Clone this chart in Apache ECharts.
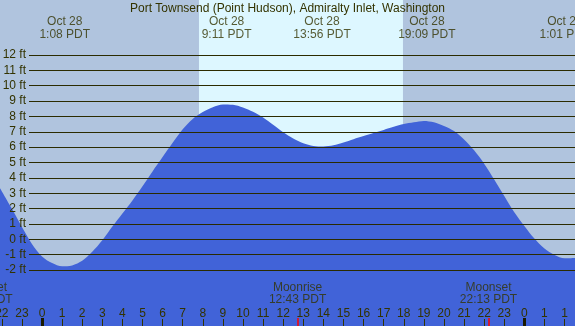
<!DOCTYPE html>
<html><head><meta charset="utf-8">
<script src="https://cdn.jsdelivr.net/npm/echarts@6/dist/echarts.min.js"></script>
<style>html,body{margin:0;padding:0;background:#b0c4de}#c{width:575px;height:326px}</style>
</head><body><div id="c"></div>
<script>
// ---- data (hours since Oct 28 00:00 PDT, feet) ----
const titleText = 'Port Townsend (Point Hudson), Admiralty Inlet, Washington';
const tideHours = [-2.09, -1.5, -1.0, -0.5, 0.0, 0.5, 1.0, 1.5, 2.0, 2.5, 3.0, 3.5, 4.0, 4.5, 5.0, 5.5, 6.0, 6.5, 7.0, 7.5, 8.0, 8.5, 9.0, 9.5, 10.0, 10.5, 11.0, 11.5, 12.0, 12.5, 13.0, 13.5, 14.0, 14.5, 15.0, 15.5, 16.0, 16.5, 17.0, 17.5, 18.0, 18.5, 19.0, 19.5, 20.0, 20.5, 21.0, 21.5, 22.0, 22.5, 23.0, 23.5, 24.0, 24.5, 25.0, 25.5, 26.0, 26.52];
const tideFeet  = [3.33, 2.0, 0.8, -0.3, -1.12, -1.55, -1.76, -1.7, -1.4, -0.82, -0.07, 0.83, 1.68, 2.53, 3.45, 4.42, 5.35, 6.28, 7.16, 7.83, 8.28, 8.6, 8.78, 8.76, 8.58, 8.3, 7.93, 7.45, 6.97, 6.56, 6.25, 6.08, 6.04, 6.12, 6.3, 6.52, 6.72, 6.92, 7.12, 7.32, 7.5, 7.62, 7.71, 7.62, 7.38, 7.05, 6.5, 5.79, 4.92, 3.89, 2.82, 1.76, 0.87, 0.05, -0.6, -1.02, -1.24, -1.22];
const eventHours = [1.133, 9.183, 13.933, 19.15, 26.017];
const eventLabels = ['Oct 28\n1:08 PDT', 'Oct 28\n9:11 PDT', 'Oct 28\n13:56 PDT', 'Oct 28\n19:09 PDT', 'Oct 28\n1:01 PDT'];
const moonHours = [-2.886, 12.717, 22.217];
const moonLabels = ['Moonset\n21:07 PDT', 'Moonrise\n12:43 PDT', 'Moonset\n22:13 PDT'];
const midnightHours = [0, 24];
const hourTicks = [-2,-1,0,1,2,3,4,5,6,7,8,9,10,11,12,13,14,15,16,17,18,19,20,21,22,23,24,25,26];
const hourLabels = ['22','23','0','1','2','3','4','5','6','7','8','9','10','11','12','13','14','15','16','17','18','19','20','21','22','23','0','1','1'];
const daylight = [7.81, 17.96];
const yMin = -2, yMax = 12;

// ---- layout / style ----
const X_MIN = -2.09, X_MAX = 26.52;
const Y_FULL_MIN = -5.647, Y_FULL_MAX = 15.581;
const TXT = '#333300';
const FONT = 'Liberation Sans, Arial, sans-serif';
const TOP_LABEL_Y = 13.75, BOTTOM_LABEL_Y = -3.52;

const full = {left: 0, right: 0, top: 0, bottom: 0, outerBoundsMode: 'none', containLabel: false};
const chart = echarts.init(document.getElementById('c'), null, {renderer: 'canvas'});
const hidX = (extra) => Object.assign({type: 'value', min: X_MIN, max: X_MAX, show: false}, extra || {});
const hidY = (extra) => Object.assign({type: 'value', min: Y_FULL_MIN, max: Y_FULL_MAX, show: false}, extra || {});

chart.setOption({
  backgroundColor: '#b0c4de',
  animation: false,
  textStyle: {fontFamily: FONT},
  title: {text: titleText, left: 'center', top: 2, padding: [1, 0, 0, 0],
    textStyle: {fontSize: 12, fontWeight: 'normal', color: TXT, fontFamily: FONT}},
  grid: [
    Object.assign({}, full),
    {left: 29, right: 0, top: 55, bottom: 56, outerBoundsMode: 'none', containLabel: false},
    Object.assign({}, full),
    Object.assign({}, full)
  ],
  xAxis: [
    {type: 'value', gridIndex: 0, min: X_MIN, max: X_MAX, z: 10,
      axisLine: {show: false, onZero: false}, splitLine: {show: false},
      axisTick: {show: true, inside: true, length: 7, customValues: hourTicks, lineStyle: {color: TXT, width: 1}},
      axisLabel: {show: true, inside: true, margin: 6.5, customValues: hourTicks, color: TXT, fontSize: 12, fontFamily: FONT,
        formatter: (v) => { const i = hourTicks.indexOf(Math.round(v)); return i >= 0 ? hourLabels[i] : ''; }}},
    hidX({gridIndex: 1}),
    {type: 'value', gridIndex: 2, min: X_MIN, max: X_MAX, z: 11,
      axisLine: {show: false, onZero: false}, splitLine: {show: false}, axisLabel: {show: false},
      axisTick: {show: true, inside: true, length: 8, customValues: midnightHours, lineStyle: {color: '#1a1a00', width: 3}}},
    {type: 'value', gridIndex: 3, min: X_MIN, max: X_MAX, z: 11,
      axisLine: {show: false, onZero: false}, splitLine: {show: false}, axisLabel: {show: false},
      axisTick: {show: true, inside: true, length: 8, customValues: moonHours, lineStyle: {color: '#ff0000', width: 1.5}}}
  ],
  yAxis: [
    hidY({gridIndex: 0}),
    {type: 'value', gridIndex: 1, min: yMin, max: yMax, interval: 1, z: 10,
      axisLine: {show: false}, axisTick: {show: false},
      splitLine: {show: true, lineStyle: {color: '#2b2b00', width: 1}},
      axisLabel: {show: true, margin: 3, color: TXT, fontSize: 12, fontFamily: FONT, formatter: (v) => v + ' ft'}},
    hidY({gridIndex: 2}),
    hidY({gridIndex: 3})
  ],
  series: [
    {type: 'line', xAxisIndex: 0, yAxisIndex: 0, data: [], z: 1, silent: true,
      markArea: {silent: true, itemStyle: {color: '#ddf7ff'}, data: [[{xAxis: daylight[0]}, {xAxis: daylight[1]}]]}},
    {type: 'line', xAxisIndex: 0, yAxisIndex: 0, z: 2, smooth: 0.3, symbol: 'none', silent: true,
      lineStyle: {width: 0}, areaStyle: {color: '#4163d8', opacity: 1, origin: 'start'},
      data: tideHours.map((h, i) => [h, tideFeet[i]])},
    {type: 'scatter', xAxisIndex: 0, yAxisIndex: 0, z: 20, clip: false, symbolSize: 0, silent: true,
      data: eventHours.map((h, i) => ({value: [h, TOP_LABEL_Y], name: eventLabels[i]})),
      label: {show: true, position: 'inside', formatter: (p) => p.name, color: TXT, fontSize: 12, lineHeight: 13, fontFamily: FONT, align: 'center'}},
    {type: 'scatter', xAxisIndex: 0, yAxisIndex: 0, z: 20, clip: false, symbolSize: 0, silent: true,
      data: moonHours.map((h, i) => ({value: [h, BOTTOM_LABEL_Y], name: moonLabels[i]})),
      label: {show: true, position: 'inside', formatter: (p) => p.name, color: TXT, fontSize: 12, lineHeight: 12, fontFamily: FONT, align: 'center'}}
  ]
});
</script></body></html>
